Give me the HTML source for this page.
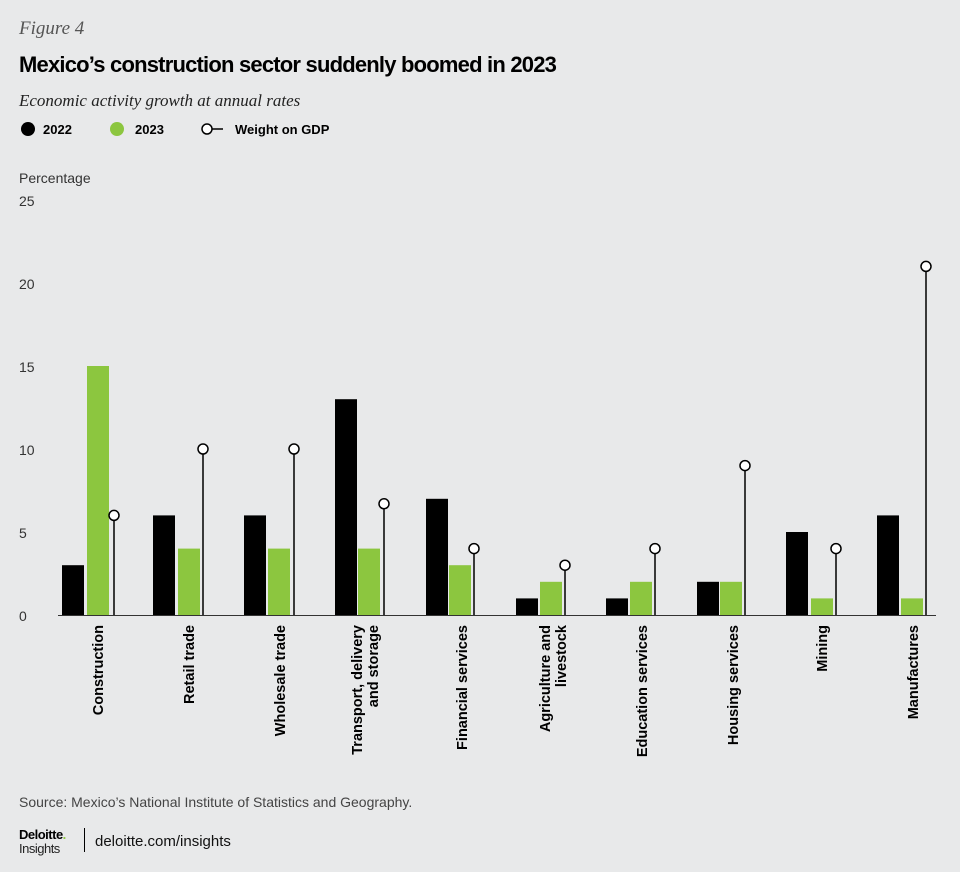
<!DOCTYPE html>
<html><head><meta charset="utf-8"><style>
html,body{margin:0;padding:0;background:#e8e9ea;}
svg{display:block}
</style></head><body>
<svg width="960" height="872" viewBox="0 0 960 872" xmlns="http://www.w3.org/2000/svg" font-family="Liberation Sans, sans-serif">
<rect width="960" height="872" fill="#e8e9ea"/>
<text x="19" y="34" style="font-family:'Liberation Serif',serif;font-style:italic" font-size="19" fill="#555">Figure 4</text>
<text x="19" y="72" font-size="22" font-weight="bold" fill="#000" letter-spacing="-0.8">Mexico’s construction sector suddenly boomed in 2023</text>
<text x="19" y="106" style="font-family:'Liberation Serif',serif;font-style:italic" font-size="17" fill="#222">Economic activity growth at annual rates</text>
<circle cx="28" cy="129" r="7" fill="#000"/>
<text x="43" y="134" font-size="13" font-weight="bold">2022</text>
<circle cx="117" cy="129" r="7" fill="#8cc63f"/>
<text x="135" y="134" font-size="13" font-weight="bold">2023</text>
<circle cx="207" cy="129" r="5" fill="#fff" stroke="#000" stroke-width="1.5"/>
<line x1="212" y1="129" x2="223" y2="129" stroke="#000" stroke-width="1.5"/>
<text x="235" y="134" font-size="13" font-weight="bold">Weight on GDP</text>
<text x="19" y="183" font-size="14" fill="#333">Percentage</text>
<g font-size="14" fill="#333">
<text x="19" y="206">25</text><text x="19" y="289">20</text><text x="19" y="372">15</text>
<text x="19" y="455">10</text><text x="19" y="538">5</text><text x="19" y="621">0</text>
</g>
<line x1="58" y1="615.5" x2="936" y2="615.5" stroke="#333" stroke-width="1"/>
<g fill="#000">
<rect x="62" y="565.2" width="22" height="49.8"/>
<rect x="153" y="515.4" width="22" height="99.6"/>
<rect x="244" y="515.4" width="22" height="99.6"/>
<rect x="335" y="399.2" width="22" height="215.8"/>
<rect x="426" y="498.8" width="22" height="116.2"/>
<rect x="516" y="598.4" width="22" height="16.6"/>
<rect x="606" y="598.4" width="22" height="16.6"/>
<rect x="697" y="581.8" width="22" height="33.2"/>
<rect x="786" y="532" width="22" height="83"/>
<rect x="877" y="515.4" width="22" height="99.6"/>
</g>
<g fill="#8cc63f">
<rect x="87" y="366" width="22" height="249"/>
<rect x="178" y="548.6" width="22" height="66.4"/>
<rect x="268" y="548.6" width="22" height="66.4"/>
<rect x="358" y="548.6" width="22" height="66.4"/>
<rect x="449" y="565.2" width="22" height="49.8"/>
<rect x="540" y="581.8" width="22" height="33.2"/>
<rect x="630" y="581.8" width="22" height="33.2"/>
<rect x="720" y="581.8" width="22" height="33.2"/>
<rect x="811" y="598.4" width="22" height="16.6"/>
<rect x="901" y="598.4" width="22" height="16.6"/>
</g>
<g stroke="#000" stroke-width="1.5">
<line x1="114" y1="515.4" x2="114" y2="615"/>
<line x1="203" y1="449" x2="203" y2="615"/>
<line x1="294" y1="449" x2="294" y2="615"/>
<line x1="384" y1="503.8" x2="384" y2="615"/>
<line x1="474" y1="548.6" x2="474" y2="615"/>
<line x1="565" y1="565.2" x2="565" y2="615"/>
<line x1="655" y1="548.6" x2="655" y2="615"/>
<line x1="745" y1="465.6" x2="745" y2="615"/>
<line x1="836" y1="548.6" x2="836" y2="615"/>
<line x1="926" y1="266.4" x2="926" y2="615"/>
</g>
<g fill="#fff" stroke="#000" stroke-width="1.5">
<circle cx="114" cy="515.4" r="5"/>
<circle cx="203" cy="449" r="5"/>
<circle cx="294" cy="449" r="5"/>
<circle cx="384" cy="503.8" r="5"/>
<circle cx="474" cy="548.6" r="5"/>
<circle cx="565" cy="565.2" r="5"/>
<circle cx="655" cy="548.6" r="5"/>
<circle cx="745" cy="465.6" r="5"/>
<circle cx="836" cy="548.6" r="5"/>
<circle cx="926" cy="266.4" r="5"/>
</g>
<g font-size="14.5" font-weight="bold" text-anchor="end">
<text transform="translate(103,625) rotate(-90)">Construction</text>
<text transform="translate(194,625) rotate(-90)">Retail trade</text>
<text transform="translate(285,625) rotate(-90)">Wholesale trade</text>
<text transform="translate(362,625) rotate(-90)">Transport, delivery</text>
<text transform="translate(378,625) rotate(-90)">and storage</text>
<text transform="translate(467,625) rotate(-90)">Financial services</text>
<text transform="translate(550,625) rotate(-90)">Agriculture and</text>
<text transform="translate(566,625) rotate(-90)">livestock</text>
<text transform="translate(647,625) rotate(-90)">Education services</text>
<text transform="translate(738,625) rotate(-90)">Housing services</text>
<text transform="translate(827,625) rotate(-90)">Mining</text>
<text transform="translate(918,625) rotate(-90)">Manufactures</text>
</g>
<text x="19" y="807" font-size="14" fill="#444">Source: Mexico’s National Institute of Statistics and Geography.</text>
<text x="19" y="839" font-size="13" font-weight="bold" letter-spacing="-0.5">Deloitte<tspan fill="#8cc63f">.</tspan></text>
<text x="19" y="853" font-size="13" fill="#222" letter-spacing="-0.5">Insights</text>
<line x1="84.5" y1="828" x2="84.5" y2="852" stroke="#000" stroke-width="1"/>
<text x="95" y="846" font-size="15" fill="#111">deloitte.com/insights</text>
</svg>
</body></html>
